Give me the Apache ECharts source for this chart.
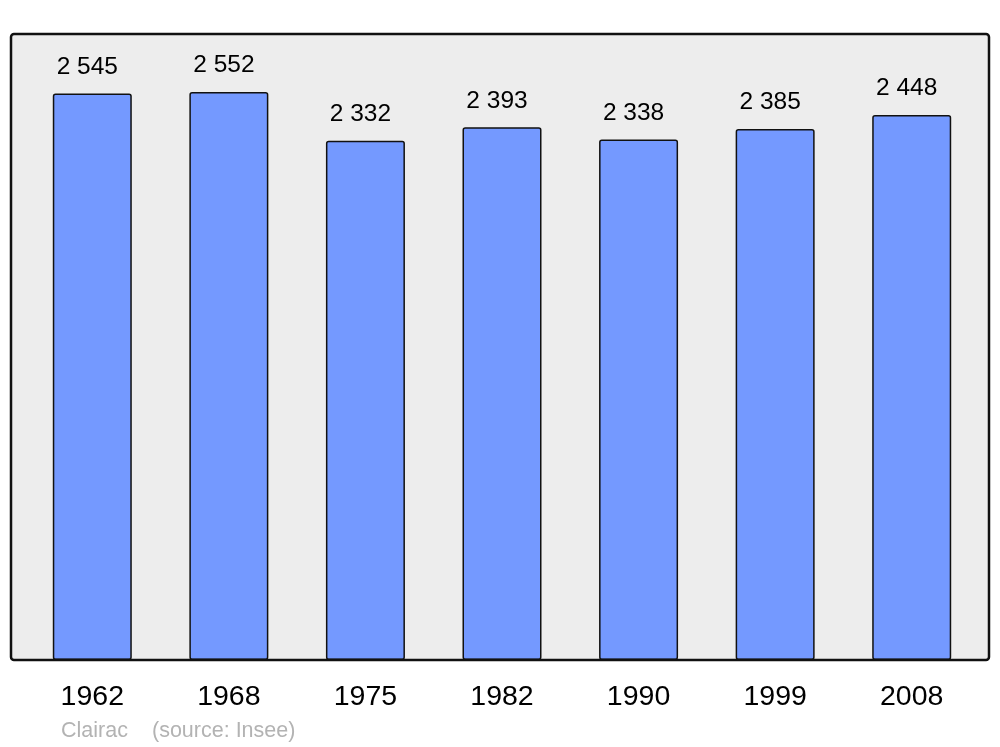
<!DOCTYPE html>
<html><head><meta charset="utf-8">
<script src="https://cdn.jsdelivr.net/npm/echarts@6/dist/echarts.min.js"></script>
<style>html,body{margin:0;padding:0;background:#fff}#c{width:1000px;height:747px}</style>
</head><body><div id="c"></div>
<script>
var years = ['1962','1968','1975','1982','1990','1999','2008'];
var population = [2545, 2552, 2332, 2393, 2338, 2385, 2448];
var axisMax = 2812;
var fmt = function (v) { var s = String(v); return s.length > 3 ? s.slice(0, s.length - 3) + ' ' + s.slice(-3) : s; };
var FONT = 'Liberation Sans, Arial, sans-serif';
var chart = echarts.init(document.getElementById('c'), null, {renderer: 'canvas'});
chart.setOption({
  animation: false,
  backgroundColor: '#ffffff',
  textStyle: {fontFamily: FONT},
  grid: {left: 24, right: 20, top: 34, bottom: 87, containLabel: false},
  graphic: [
    {type: 'rect', z: -10, shape: {x: 11, y: 34, width: 978, height: 626, r: 3}, style: {fill: '#ededed', stroke: null}},
    {type: 'rect', z: 100, shape: {x: 11, y: 34, width: 978, height: 626, r: 3}, style: {fill: null, stroke: '#111', lineWidth: 2.5}},
    {type: 'text', left: 61, top: 720, style: {text: 'Clairac', fill: '#b3b3b3', font: '21.5px ' + FONT}},
    {type: 'text', left: 152, top: 720, style: {text: '(source: Insee)', fill: '#b3b3b3', font: '21.5px ' + FONT}}
  ],
  xAxis: {
    type: 'category', data: years,
    axisLine: {show: false}, axisTick: {show: false},
    axisLabel: {color: '#000', fontSize: 28.5, margin: 23, fontFamily: FONT}
  },
  yAxis: {type: 'value', min: 0, max: axisMax, show: false, splitLine: {show: false}},
  series: [{
    type: 'bar', data: population, barWidth: 79,
    itemStyle: {color: '#7499ff', borderColor: '#111', borderWidth: 1.5, borderRadius: 2},
    label: {show: true, position: 'top', distance: 14, offset: [-5, 0], color: '#000', fontSize: 24.5,
      fontFamily: FONT, formatter: function (p) { return fmt(p.value); }}
  }]
});
</script></body></html>
